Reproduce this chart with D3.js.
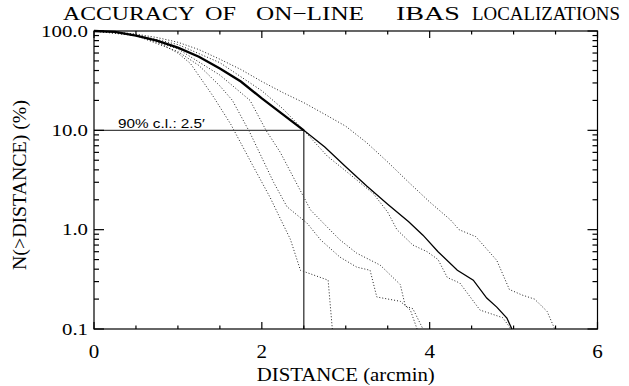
<!DOCTYPE html>
<html>
<head>
<meta charset="utf-8">
<script src="https://cdn.jsdelivr.net/npm/d3@7/dist/d3.min.js"></script>
<style>
  html, body { margin: 0; padding: 0; background: #fff; }
  svg { display: block; }
</style>
</head>
<body>
<svg id="chart" width="629" height="386"></svg>
<script>
// Cumulative fraction of localizations with error larger than a given distance
const totalDist = [0, 0.25, 0.5, 0.75, 1.0, 1.25, 1.5, 1.75, 2.0, 2.25, 2.5, 2.75, 3.0, 3.25, 3.5, 3.75, 3.92, 4.1, 4.33, 4.52, 4.68, 4.8, 4.92, 4.98];
const totalPct  = [100, 98, 90, 80, 68, 55, 42, 31, 21, 14.5, 10, 6.8, 4.3, 2.75, 1.8, 1.2, 0.88, 0.6, 0.39, 0.31, 0.205, 0.166, 0.129, 0.1];

// Sub-samples (dotted)
const subADist = [0, 0.25, 0.5, 0.75, 1.0, 1.25, 1.5, 1.75, 2.0, 2.25, 2.5, 2.75, 3.0, 3.25, 3.5, 3.75, 4.0, 4.25, 4.35, 4.55, 4.8, 4.95, 5.1, 5.25, 5.4, 5.49];
const subAPct  = [100, 98, 93, 86, 77, 65, 52, 41, 31, 24, 19, 14.5, 11, 7.5, 4.8, 3.0, 1.9, 1.25, 1.0, 0.85, 0.49, 0.25, 0.22, 0.2, 0.15, 0.1];

const subBDist = [0, 0.5, 1.0, 1.5, 2.0, 2.25, 2.5, 2.78, 3.0, 3.33, 3.5, 3.61, 3.8, 3.97, 4.1, 4.21, 4.36, 4.6, 4.87, 4.97];
const subBPct  = [100, 92, 73, 48, 25, 16.5, 10, 5.5, 3.9, 2.3, 1.5, 1.0, 0.7, 0.6, 0.5, 0.33, 0.29, 0.155, 0.13, 0.1];

const subCDist = [0, 0.5, 1.0, 1.5, 1.86, 2.05, 2.22, 2.58, 2.78, 2.93, 3.13, 3.41, 3.65, 3.71, 3.8, 3.92];
const subCPct  = [100, 90, 66, 36, 20, 10, 6, 1.58, 1.06, 0.79, 0.58, 0.44, 0.28, 0.17, 0.16, 0.1];

const subDDist = [0, 0.5, 1.0, 1.25, 1.5, 1.65, 1.86, 2.14, 2.3, 2.54, 2.7, 2.93, 3.13, 3.29, 3.37, 3.65, 3.77, 3.85];
const subDPct  = [100, 90, 62, 45, 28, 20, 9.4, 3.0, 1.7, 1.16, 0.79, 0.53, 0.42, 0.39, 0.21, 0.19, 0.155, 0.1];

const subEDist = [0, 0.25, 0.5, 0.75, 1.0, 1.15, 1.42, 1.63, 1.9, 2.1, 2.2, 2.34, 2.46, 2.79, 2.84];
const subEPct  = [100, 97, 90, 78, 60, 47, 22, 11.5, 4.3, 2.1, 1.4, 0.8, 0.39, 0.31, 0.1];

// 90% confidence level
const clDist = 2.5;
const clPct = 10;
const clLabel = "90% c.l.: 2.5\u2032";

// Axes
const xTickValues = [0, 2, 4, 6];
const xTickLabels = ["0", "2", "4", "6"];
const xMinorStep = 0.5;
const yTickValues = [0.1, 1, 10, 100];
const yTickLabels = ["0.1", "1.0", "10.0", "100.0"];

const titleWords = ["ACCURACY", "OF", "ON\u2212LINE", "IBAS", "LOCALIZATIONS"];
const xTitle = "DISTANCE (arcmin)";
const yTitle = "N(>DISTANCE) (%)";

const SERIF = "'Liberation Serif', 'DejaVu Serif', 'Times New Roman', serif";

const svg = d3.select("#chart");
const plot = { left: 94, right: 597.5, top: 31, bottom: 329 };

const x = d3.scaleLinear().domain([0, 6]).range([plot.left, plot.right]);
const y = d3.scaleLog().domain([0.1, 100]).range([plot.bottom, plot.top]);

const zip = (xs, ys) => xs.map((d, i) => [d, ys[i]]);
const line = d3.line().x(d => x(d[0])).y(d => y(d[1]));

// Dotted sub-sample curves
[[subADist, subAPct], [subBDist, subBPct], [subCDist, subCPct], [subDDist, subDPct], [subEDist, subEPct]]
  .forEach(([xs, ys]) => {
    svg.append("path")
      .attr("d", line(zip(xs, ys)))
      .attr("fill", "none")
      .attr("stroke", "#222")
      .attr("stroke-width", 1)
      .attr("stroke-dasharray", "1,2");
  });

// 90% c.l. guide lines
svg.append("path")
  .attr("d", d3.line()([[x(0), y(clPct)], [x(clDist), y(clPct)], [x(clDist), y(0.1)]]))
  .attr("fill", "none")
  .attr("stroke", "#444")
  .attr("stroke-width", 1.4);

// Full-sample curve: heavier above the 90% point
const total = zip(totalDist, totalPct);
svg.append("path")
  .attr("d", line(total.filter(d => d[0] >= clDist)))
  .attr("fill", "none").attr("stroke", "#000").attr("stroke-width", 1.3);
svg.append("path")
  .attr("d", line(total.filter(d => d[0] <= clDist)))
  .attr("fill", "none").attr("stroke", "#000").attr("stroke-width", 2.3);

svg.append("text")
  .attr("x", x(0) + 24).attr("y", y(clPct) - 2)
  .attr("textLength", 87).attr("lengthAdjust", "spacingAndGlyphs")
  .attr("font-family", "'Liberation Sans', Arial, sans-serif")
  .attr("font-size", 12.5)
  .text(clLabel);

// Frame and ticks
const frame = svg.append("g").attr("stroke", "#000").attr("stroke-width", 1.2).attr("fill", "none");
frame.append("rect")
  .attr("x", plot.left).attr("y", plot.top)
  .attr("width", plot.right - plot.left).attr("height", plot.bottom - plot.top);

const xMinor = d3.range(0, 6 + 1e-9, xMinorStep).filter(v => !xTickValues.includes(v));
const tickX = (vals, len) => vals.forEach(v => {
  frame.append("line").attr("x1", x(v)).attr("x2", x(v)).attr("y1", plot.bottom).attr("y2", plot.bottom - len);
  frame.append("line").attr("x1", x(v)).attr("x2", x(v)).attr("y1", plot.top).attr("y2", plot.top + len);
});
tickX(xTickValues, 7);
tickX(xMinor, 3.5);

const yMinor = [];
[0.1, 1, 10].forEach(dec => d3.range(2, 10).forEach(m => yMinor.push(dec * m)));
const tickY = (vals, len) => vals.forEach(v => {
  frame.append("line").attr("x1", plot.left).attr("x2", plot.left + len).attr("y1", y(v)).attr("y2", y(v));
  frame.append("line").attr("x1", plot.right).attr("x2", plot.right - len).attr("y1", y(v)).attr("y2", y(v));
});
tickY(yTickValues, 10);
tickY(yMinor, 5);

// Tick labels (wide numerals)
const labelWidth = s => [...s].reduce((w, c) => w + (c === "." ? 5 : 10.5), 0);

svg.append("g").selectAll("text").data(xTickValues).join("text")
  .attr("x", d => x(d)).attr("y", 358)
  .attr("text-anchor", "middle")
  .attr("textLength", (d, i) => labelWidth(xTickLabels[i]))
  .attr("lengthAdjust", "spacingAndGlyphs")
  .attr("font-family", SERIF).attr("font-size", 18)
  .text((d, i) => xTickLabels[i]);

svg.append("g").selectAll("text").data(yTickValues).join("text")
  .attr("x", plot.left - 6).attr("y", d => y(d) + 5.5)
  .attr("text-anchor", "end")
  .attr("textLength", (d, i) => labelWidth(yTickLabels[i]))
  .attr("lengthAdjust", "spacingAndGlyphs")
  .attr("font-family", SERIF).attr("font-size", 17)
  .text((d, i) => yTickLabels[i]);

// Axis titles
svg.append("text")
  .attr("x", (plot.left + plot.right) / 2).attr("y", 381)
  .attr("text-anchor", "middle")
  .attr("textLength", 178).attr("lengthAdjust", "spacingAndGlyphs")
  .attr("font-family", SERIF).attr("font-size", 18)
  .text(xTitle);

svg.append("text")
  .attr("transform", `translate(26,${(plot.top + plot.bottom) / 2 + 5}) rotate(-90)`)
  .attr("text-anchor", "middle")
  .attr("textLength", 170).attr("lengthAdjust", "spacingAndGlyphs")
  .attr("font-family", SERIF).attr("font-size", 18)
  .text(yTitle);

// Title, word by word with wide gaps
const titleStarts = [63, 205, 256, 396, 472];
const titleWidths = [132, 31, 108, 64, 148];
svg.append("g").selectAll("text").data(titleWords).join("text")
  .attr("x", (d, i) => titleStarts[i]).attr("y", 20)
  .attr("textLength", (d, i) => titleWidths[i]).attr("lengthAdjust", "spacingAndGlyphs")
  .attr("font-family", SERIF).attr("font-size", 19)
  .text(d => d);
</script>
</body>
</html>
